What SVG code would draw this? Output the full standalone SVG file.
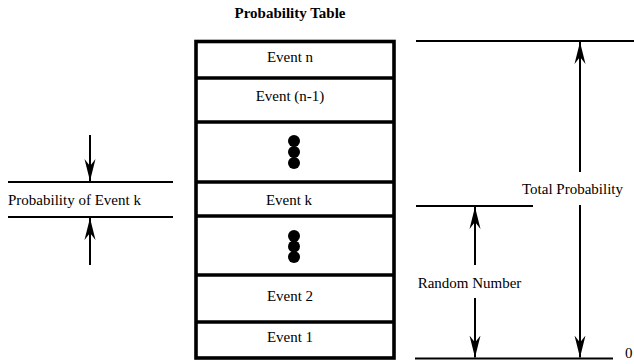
<svg xmlns="http://www.w3.org/2000/svg" width="634" height="364" viewBox="0 0 634 364">
  <style>
    text { font-family: "Liberation Serif", "Times New Roman", serif; font-size: 15px; fill: #000; }
    .title { font-weight: bold; }
    .mid { text-anchor: middle; }
    .frame { fill: #fff; stroke: #000; stroke-width: 3.6; }
    .div { stroke: #000; stroke-width: 3.6; }
    .rule { stroke: #000; stroke-width: 2; fill: none; }
    .shaft { stroke: #000; stroke-width: 2; fill: none; marker-end: url(#head); }
    .dot { fill: #000; }
  </style>
  <defs>
    <marker id="head" viewBox="0 -6 22 12" markerUnits="userSpaceOnUse" markerWidth="22" markerHeight="12" refX="22" refY="0" orient="auto">
      <path d="M22,0 L0,-5.5 L7,0 L0,5.5 Z" fill="#000"/>
    </marker>
  </defs>

  <rect width="634" height="364" fill="#fff"/>

  <text class="title mid" x="290" y="18">Probability Table</text>

  <!-- the table -->
  <g id="table">
    <rect class="frame" x="196" y="41.5" width="198" height="316.5"/>
    <line class="div" x1="196" y1="78" x2="394" y2="78"/>
    <line class="div" x1="196" y1="122" x2="394" y2="122"/>
    <line class="div" x1="196" y1="182" x2="394" y2="182"/>
    <line class="div" x1="196" y1="216" x2="394" y2="216"/>
    <line class="div" x1="196" y1="275" x2="394" y2="275"/>
    <line class="div" x1="196" y1="322" x2="394" y2="322"/>
  </g>
  <g id="event-n"><text class="mid" x="290" y="62">Event n</text></g>
  <g id="event-n-1"><text class="mid" x="290" y="101">Event (n-1)</text></g>
  <g id="dots-upper">
    <circle class="dot" cx="294" cy="141" r="6"/>
    <circle class="dot" cx="294" cy="152" r="6"/>
    <circle class="dot" cx="294" cy="163" r="6"/>
  </g>
  <g id="event-k"><text class="mid" x="289" y="205">Event k</text></g>
  <g id="dots-lower">
    <circle class="dot" cx="294" cy="236" r="6"/>
    <circle class="dot" cx="294" cy="246.5" r="6"/>
    <circle class="dot" cx="294" cy="257" r="6"/>
  </g>
  <g id="event-2"><text class="mid" x="290" y="301">Event 2</text></g>
  <g id="event-1"><text class="mid" x="290" y="342">Event 1</text></g>

  <!-- width of event k -->
  <g id="prob-k">
    <line class="rule" x1="8" y1="182" x2="173" y2="182"/>
    <line class="rule" x1="8" y1="217" x2="173" y2="217"/>
    <text x="8" y="205">Probability of Event k</text>
  </g>

  <!-- scale on the right -->
  <g id="scale">
    <line class="rule" x1="416" y1="41" x2="634" y2="41"/>
    <line class="rule" x1="416" y1="206" x2="533" y2="206"/>
    <line class="rule" x1="415" y1="358.5" x2="613" y2="358.5"/>
    <text x="625" y="358">0</text>
  </g>
  <g id="total-probability"><text class="mid" x="572.5" y="194">Total Probability</text></g>
  <g id="random-number"><text class="mid" x="469.5" y="288">Random Number</text></g>

  <g id="connectors">
    <line class="shaft" x1="90" y1="135" x2="90" y2="181"/>
    <line class="shaft" x1="90" y1="265" x2="90" y2="218"/>
    <line class="shaft" x1="580" y1="172" x2="580" y2="42"/>
    <line class="shaft" x1="580" y1="205" x2="580" y2="357.5"/>
    <line class="shaft" x1="475" y1="265" x2="475" y2="207"/>
    <line class="shaft" x1="475" y1="298" x2="475" y2="357.5"/>
  </g>
</svg>
